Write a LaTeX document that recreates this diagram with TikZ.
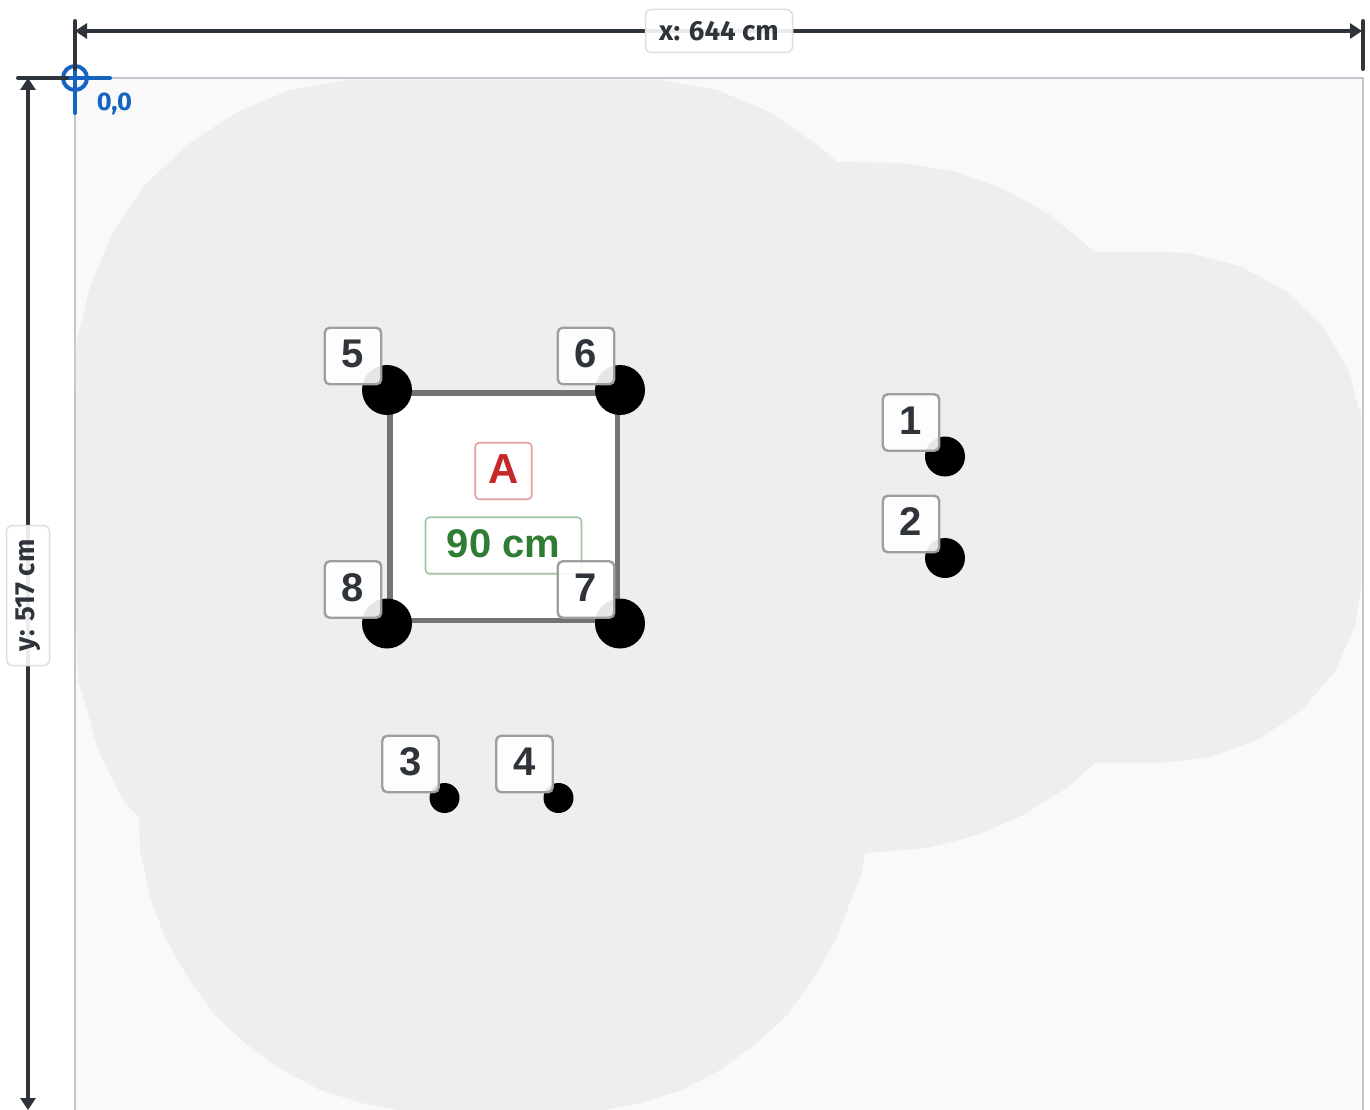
\documentclass[tikz,border=0pt]{standalone}
\usepackage{fontspec}
\setmainfont{Liberation Sans}
\newfontfamily\dimfont{Fira Sans}
\usetikzlibrary{
    positioning,
    arrows.meta
}
\definecolor{dimdark}{HTML}{2F343B}
\definecolor{framegray}{HTML}{C3C6CE}
\definecolor{roomgray}{HTML}{F9F9F9}
\definecolor{zonegray}{HTML}{EEEEEE}
\definecolor{originblue}{HTML}{1565C0}
\definecolor{boxred}{HTML}{C62828}
\definecolor{boxgreen}{HTML}{2E7D32}

\begin{document}
\begin{tikzpicture}[
    x=1pt, y=-1pt,
    node distance=34pt and 34pt,
    % Node styles
    dotbig/.style={circle, fill=black, inner sep=0pt, minimum size=50pt},
    dotmid/.style={circle, fill=black, inner sep=0pt, minimum size=40pt},
    dotsmall/.style={circle, fill=black, inner sep=0pt, minimum size=30pt},
    tagbox/.style={on grid, rectangle, rounded corners=5pt, draw=black!38, line width=2.4pt,
        fill=white, fill opacity=0.9, text opacity=1, draw opacity=1, minimum size=56.5pt, inner sep=0pt,
        text depth=4pt, text=dimdark, font=\fontsize{40}{40}\selectfont\bfseries},
    dimbox/.style={rectangle, rounded corners=6pt, draw=black!13, line width=1.5pt,
        fill=white, fill opacity=0.9, text opacity=1, draw opacity=1, inner sep=0pt,
        text=dimdark, font=\fontsize{27.6}{28}\dimfont\bfseries},
    % Line styles
    dimline/.style={{Triangle[length=12pt,width=15pt]}-{Triangle[length=12pt,width=15pt]}, line width=4pt, draw=dimdark},
    dimtick/.style={line width=4pt, draw=dimdark, line cap=round},
    originline/.style={line width=4pt, draw=originblue, line cap=round}
]
\useasboundingbox (0,0) rectangle (1370,1110);

% --- Room ---
\fill[white] (0,0) rectangle (1370,1110);
\draw[fill=roomgray, draw=framegray, line width=2pt] (75,78.5) rectangle (1362.5,1130);

% --- Coverage zone ---
\fill[zonegray] (76,390) -- (75.7,346) -- (90,287) -- (113,232) -- (145,185) -- (187,145)
    -- (237,112) -- (290,90) -- (347,80) -- (660,80) -- (717,90) -- (770,112) -- (820,147)
    -- (837.5,162) -- (904,163) -- (956.5,172) -- (1005.5,190) -- (1049,214) -- (1095,252)
    -- (1163,252) -- (1189,253) -- (1240,266) -- (1285.5,291) -- (1322,325) -- (1348.5,370)
    -- (1361,417) -- (1361,587) -- (1355.5,625) -- (1334.5,672) -- (1302,710) -- (1259,739)
    -- (1211,757) -- (1161,763) -- (1095,763) -- (1068,787) -- (1025,814) -- (977.5,835)
    -- (927,848) -- (865,853) -- (862,872) -- (852,897) -- (837,937) -- (814,978) -- (787,1015)
    -- (757,1043) -- (720,1070) -- (682,1090) -- (640,1103) -- (605,1110) -- (397,1110)
    -- (362,1103) -- (320,1090) -- (282,1070) -- (245,1043) -- (215,1015) -- (188,978)
    -- (165,937) -- (150,897) -- (140,850) -- (139,818) -- (123,800) -- (98,750) -- (87,710)
    -- (78,680) -- (76,623) -- cycle;

% --- Object A ---
\draw[draw=black!55, line width=5.5pt, fill=white] (390,393) rectangle (617.5,620.5);
\node[rectangle, rounded corners=4pt, draw=boxred!45, line width=1.6pt, minimum size=56.5pt, inner sep=0pt,
      text depth=4pt, text=boxred, font=\fontsize{42}{42}\selectfont\bfseries] (objA) at (503.5,471) {A};
\node[rectangle, rounded corners=4pt, draw=boxgreen!45, line width=1.6pt, minimum width=156pt, minimum height=56.5pt, inner sep=0pt,
      text depth=4pt, text=boxgreen, font=\fontsize{40}{40}\selectfont\bfseries] (size90) at (503.5,545.5) {90 cm};

% --- Sensors ---
\node[dotmid] (dot1) at (945,456.5) {};
\node[dotmid] (dot2) at (945,558) {};
\node[dotsmall] (dot3) at (444.5,798) {};
\node[dotsmall] (dot4) at (558.5,798) {};
\node[dotbig] (dot5) at (387,390) {};
\node[dotbig] (dot6) at (620,390) {};
\node[dotbig] (dot7) at (620,623.5) {};
\node[dotbig] (dot8) at (387,623.5) {};

\node[tagbox] (tag1) [above left=of dot1] {1};
\node[tagbox] (tag2) [above left=of dot2] {2};
\node[tagbox] (tag3) [above left=of dot3] {3};
\node[tagbox] (tag4) [above left=of dot4] {4};
\node[tagbox] (tag5) [above left=of dot5] {5};
\node[tagbox] (tag6) [above left=of dot6] {6};
\node[tagbox] (tag7) [above left=of dot7] {7};
\node[tagbox] (tag8) [above left=of dot8] {8};

% --- Origin ---
\coordinate (oleft) at (40,78);
\coordinate (oright) at (110,78);
\coordinate (otop) at (75,44);
\coordinate (obottom) at (75,113);
\draw[originline] (oleft) -- (oright);
\draw[originline] (otop) -- (obottom);
\node[circle, draw=originblue, line width=4pt, minimum size=24pt, inner sep=0pt] (origin) at (75,78) {};
\node[text=originblue, font=\fontsize{25.5}{26}\dimfont\bfseries, inner sep=0pt] (originlabel) at (114.5,104) {0,0};

% --- Dimensions ---
\coordinate (xstart) at (75,31);
\coordinate (xend) at (1362,31);
\coordinate (ystart) at (28,78);
\coordinate (yend) at (28,1110);
\draw[dimtick] (75,21) -- (75,69);
\draw[dimtick] (1363,21) -- (1363,69);
\draw[dimtick] (18,78) -- (67,78);
\draw[dimline] (xstart) -- (xend);
\draw[dimline] (ystart) -- (yend);

\node[dimbox, minimum width=147pt, minimum height=43pt] (xlabel) at (719,31) {x: 644 cm};
\node[dimbox, minimum width=140pt, minimum height=43pt, rotate=90] (ylabel) at (28,595.5) {y: 517 cm};

\end{tikzpicture}
\end{document}
